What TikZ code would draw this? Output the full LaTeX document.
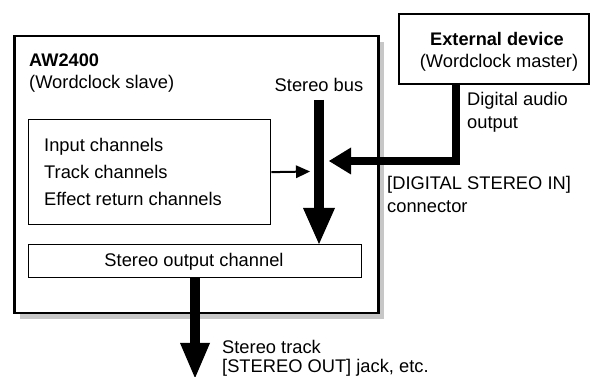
\documentclass[tikz,border=0pt]{standalone}
\usepackage{fontspec}
\setmainfont{Liberation Sans}
\usetikzlibrary{arrows.meta,shadows}
\begin{document}
\begin{tikzpicture}[x=1pt,y=-1pt,
  txt/.style={inner sep=0pt, font=\fontsize{18.3}{21}\selectfont},
  bftxt/.style={inner sep=0pt, font=\fontsize{18.2}{21}\selectfont\bfseries},
  boxnode/.style={draw, fill=white, inner sep=0pt, anchor=north west},
  bigarrow/.style={line width=10pt, -{Triangle[length=36pt,width=32pt,line width=0pt]}},
  linkarrow/.style={line width=7.5pt, line join=miter, -{Triangle[length=22pt,width=27pt,line width=0pt]}},
  smallarrow/.style={line width=2pt, -{Triangle[length=14pt,width=13pt,line width=0pt]}}
]
\useasboundingbox (0,0) rectangle (590,377);

% main box with shadow
\node[boxnode, line width=2.5pt, minimum width=364pt, minimum height=277pt,
      general shadow={fill=black!22, shadow xshift=6pt, shadow yshift=-6pt}] (aw) at (13,35) {};
% external device box
\node[boxnode, line width=2pt, minimum width=190pt, minimum height=70pt] (ext) at (398,13) {};
% channels box
\node[boxnode, line width=1.3pt, minimum width=242pt, minimum height=105pt] (chan) at (28,119) {};
% stereo output channel box
\node[boxnode, line width=1.3pt, minimum width=333pt, minimum height=33pt] (sout) at (28,244) {};
\node[txt, anchor=base] (souttxt) at (194,266.5) {Stereo output channel};

% texts
\node[bftxt, anchor=base west] (awt) at (29,67) {AW2400};
\node[txt, anchor=base west] (aws) at (29,89) {(Wordclock slave)};
\node[txt, anchor=base] (sbus) at (319,92) {Stereo bus};
\node[txt, anchor=base west] (in1) at (44,152) {Input channels};
\node[txt, anchor=base west] (in2) at (44,179) {Track channels};
\node[txt, anchor=base west] (in3) at (44,206) {Effect return channels};
\node[bftxt, anchor=base] (extt) at (497,46) {External device};
\node[txt, anchor=base] (exts) at (499,68) {(Wordclock master)};
\node[txt, anchor=base west] (dao1) at (467,106) {Digital audio};
\node[txt, anchor=base west] (dao2) at (467,129) {output};
\node[txt, anchor=base west] (dsi1) at (387,190) {[DIGITAL STEREO IN]};
\node[txt, anchor=base west] (dsi2) at (387,213) {connector};
\node[txt, anchor=base west] (st1) at (222,353) {Stereo track};
\node[txt, anchor=base west] (st2) at (222,373) {[STEREO OUT] jack, etc.};

% connectors
\coordinate (bustop) at (319,100);
\draw[bigarrow] (bustop) -- (bustop |- sout.north);
\coordinate (extout) at (456,83);
\coordinate (din) at (329,161);
\draw[linkarrow] (extout) |- (din);
\coordinate (smtip) at (310,171.5);
\draw[smallarrow] (chan.east) -- (smtip);
\coordinate (outtip) at (195,378);
\draw[bigarrow, -{Triangle[length=35pt,width=30pt,line width=0pt]}] (outtip |- sout.south) -- (outtip);
\end{tikzpicture}
\end{document}
